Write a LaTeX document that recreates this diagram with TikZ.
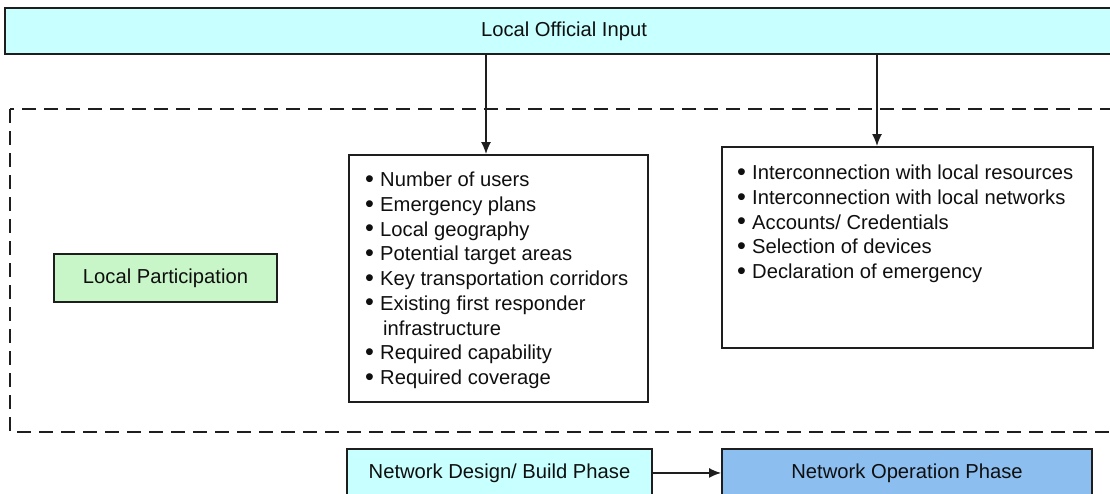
\documentclass[tikz,border=0pt]{standalone}
\usepackage{fontspec}
\setmainfont{Liberation Sans}
\usetikzlibrary{arrows.meta}
\definecolor{inputcyan}{RGB}{200,255,255}
\definecolor{partgreen}{RGB}{200,246,200}
\definecolor{opblue}{RGB}{140,190,240}
\definecolor{edgegray}{RGB}{30,30,30}
\definecolor{textgray}{RGB}{15,15,15}
\newcommand{\listdot}{\makebox[15pt][l]{\raisebox{-0.6pt}{\scalebox{1.25}{\textbullet}}}}

\begin{document}
\begin{tikzpicture}[x=1pt,y=-1pt,
    box/.style={draw=edgegray,line width=1.9pt,inner sep=0pt},
    txt/.style={font=\fontsize{20.2}{24.7}\selectfont,text=textgray},
    arr/.style={-{Latex[length=12pt,width=10pt]},line width=1.5pt,draw=edgegray},
    frame/.style={draw=edgegray,line width=2.6pt,dash pattern=on 14pt off 8pt}]
  \clip (0,0) rectangle (1110,493);
  % input bar
  \node[box,txt,fill=inputcyan,minimum width=1118pt,minimum height=46pt] (input) at (564,31) {Local Official Input};
  % dashed frame
  \draw[frame] (10,109) rectangle (1130,432);
  \node[box,txt,fill=partgreen,minimum width=223pt,minimum height=48pt] (part) at (165.5,278) {Local Participation};
  % lists
  \node[box,minimum width=299pt,minimum height=247pt] (usersbox) at (498.5,278.5) {};
  \node[txt,anchor=north west,align=left,inner sep=0pt] (userslist) at (365,172) {%
    \listdot Number of users\\
    \listdot Emergency plans\\
    \listdot Local geography\\
    \listdot Potential target areas\\
    \listdot Key transportation corridors\\
    \listdot Existing first responder\\
    \hspace*{18pt}infrastructure\\
    \listdot Required capability\\
    \listdot Required coverage};
  \node[box,minimum width=371pt,minimum height=201pt] (linksbox) at (907.5,247.5) {};
  \node[txt,anchor=north west,align=left,inner sep=0pt] (linkslist) at (737,165) {%
    \listdot Interconnection with local resources\\
    \listdot Interconnection with local networks\\
    \listdot Accounts/ Credentials\\
    \listdot Selection of devices\\
    \listdot Declaration of emergency};
  % phases
  \node[box,txt,fill=inputcyan,minimum width=305pt,minimum height=48pt,anchor=north] (build) at (499.5,448) {Network Design/ Build Phase};
  \node[box,txt,fill=opblue,minimum width=370pt,minimum height=48pt,anchor=north] (operate) at (907,448) {Network Operation Phase};
  % arrows
  \coordinate (a1) at (486,0);
  \coordinate (a2) at (877,0);
  \draw[arr] (input.south -| a1) -- (usersbox.north -| a1);
  \draw[arr] (input.south -| a2) -- (linksbox.north -| a2);
  \draw[arr] (build) -- (operate);
\end{tikzpicture}
\end{document}
